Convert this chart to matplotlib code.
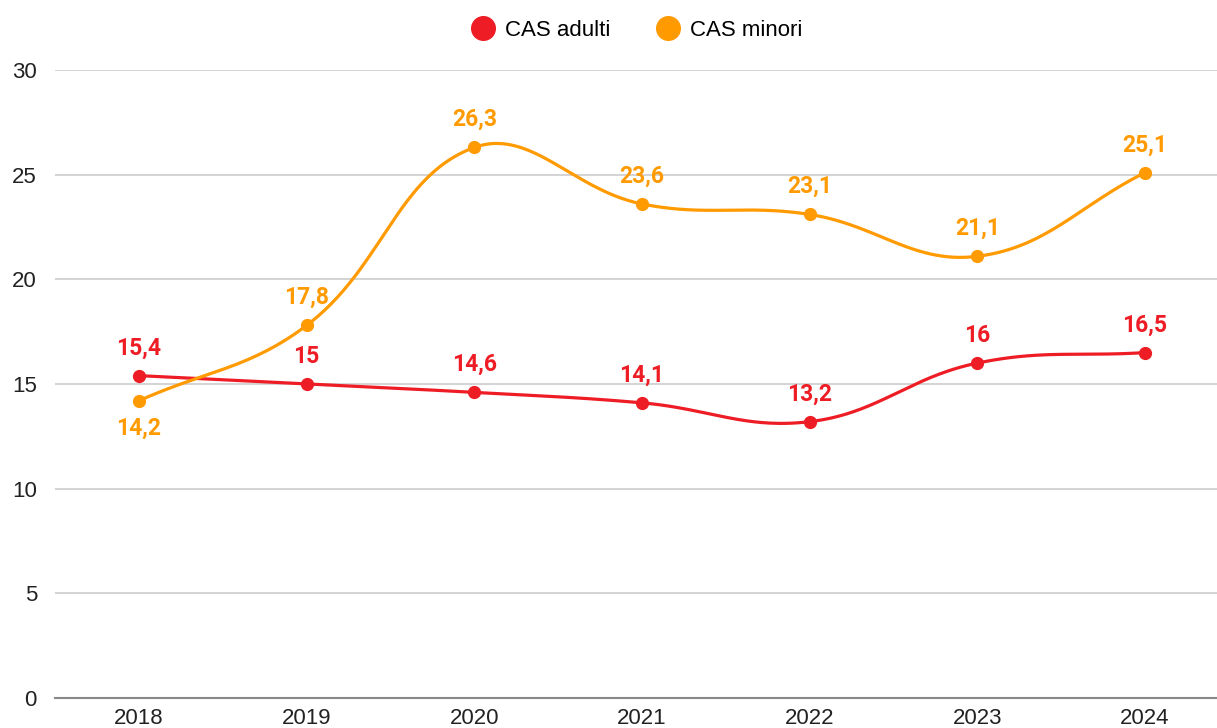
import numpy as np
import matplotlib
matplotlib.use("Agg")
import matplotlib.pyplot as plt
from matplotlib.lines import Line2D

years = ["2018", "2019", "2020", "2021", "2022", "2023", "2024"]
adulti = [15.4, 15.0, 14.6, 14.1, 13.2, 16.0, 16.5]
minori = [14.2, 17.8, 26.3, 23.6, 23.1, 21.1, 25.1]
y_ticks = [0, 5, 10, 15, 20, 25, 30]

RED = "#EE1D25"
ORANGE = "#FF9A00"

W, H = 1217, 728
fig = plt.figure(figsize=(W / 100, H / 100), dpi=100)
ax_left, ax_right, ax_bottom, ax_top = 55, 1217, 698, 70
ax = fig.add_axes([ax_left / W, (H - ax_bottom) / H, (ax_right - ax_left) / W, (ax_bottom - ax_top) / H])

px_per_x = (1145 - 139) / 6.0
px_per_y = (ax_bottom - ax_top) / 30.0
x0 = -(139 - ax_left) / px_per_x
x1 = 6 + (ax_right - 1145) / px_per_x
ax.set_xlim(x0, x1)
ax.set_ylim(0, 30)


def spline(xs, ys, tension=0.4, n=60):
    # Chart.js style bezier control points computed in pixel space
    P = np.column_stack([np.asarray(xs, float) * px_per_x, np.asarray(ys, float) * px_per_y])
    m = len(P)
    cp_prev = P.copy()
    cp_next = P.copy()
    for i in range(m):
        prev = P[i - 1] if i > 0 else P[i]
        nxt = P[i + 1] if i < m - 1 else P[i]
        d01 = np.hypot(*(P[i] - prev))
        d12 = np.hypot(*(nxt - P[i]))
        tot = d01 + d12
        s01 = d01 / tot if tot else 0
        s12 = d12 / tot if tot else 0
        cp_prev[i] = P[i] - tension * s01 * (nxt - prev)
        cp_next[i] = P[i] + tension * s12 * (nxt - prev)
    out = []
    t = np.linspace(0, 1, n)[:, None]
    for i in range(m - 1):
        a, b, c, d = P[i], cp_next[i], cp_prev[i + 1], P[i + 1]
        seg = (1 - t) ** 3 * a + 3 * (1 - t) ** 2 * t * b + 3 * (1 - t) * t ** 2 * c + t ** 3 * d
        out.append(seg)
    pts = np.vstack(out)
    return pts[:, 0] / px_per_x, pts[:, 1] / px_per_y


xs = np.arange(len(years))
for vals, col in [(adulti, RED), (minori, ORANGE)]:
    sx, sy = spline(xs, vals)
    ax.plot(sx, sy, color=col, lw=2.3, solid_capstyle="round", zorder=3)
    ax.plot(xs, vals, "o", color=col, ms=8.5, zorder=4)

def fmt(v):
    s = f"{v:.1f}"
    if s.endswith(".0"):
        s = s[:-2]
    return s.replace(".", ",")

OFF = 20
for i, (a, m) in enumerate(zip(adulti, minori)):
    ax.annotate(fmt(a), (i, a), xytext=(0, OFF), textcoords="offset points",
                ha="center", va="center", color=RED, fontsize=16.5, fontweight="bold",
                family="Roboto", zorder=5)
    ax.annotate(fmt(m), (i, m), xytext=(0, OFF if m > a else -OFF), textcoords="offset points",
                ha="center", va="center", color=ORANGE, fontsize=16.5, fontweight="bold",
                family="Roboto", zorder=5)

ax.set_yticks(y_ticks)
ax.set_yticklabels([str(v) for v in y_ticks], family="Liberation Sans", fontsize=16, color="#222222")
ax.set_xticks(xs)
ax.set_xticklabels(years, family="Liberation Sans", fontsize=16, color="#222222")
ax.tick_params(axis="both", length=0)
ax.tick_params(axis="y", pad=13)
ax.tick_params(axis="x", pad=7)

for v in y_ticks[1:]:
    ax.axhline(v, color="#CCCCCC", lw=1.2, zorder=1)
ax.axhline(0, color="#888888", lw=1.5, zorder=2, clip_on=False)
for s in ax.spines.values():
    s.set_visible(False)

handles = [Line2D([], [], marker="o", ls="", color=RED, ms=17, label="CAS adulti"),
           Line2D([], [], marker="o", ls="", color=ORANGE, ms=17, label="CAS minori")]
ax.legend(handles=handles, loc="center", bbox_to_anchor=(0.5, 1 + 40 / (ax_bottom - ax_top)), ncol=2,
          frameon=False, prop={"family": "Liberation Sans", "size": 16}, handletextpad=0.4,
          columnspacing=2.0, handlelength=1.2)

fig.savefig("out.png", dpi=100, facecolor="white")
